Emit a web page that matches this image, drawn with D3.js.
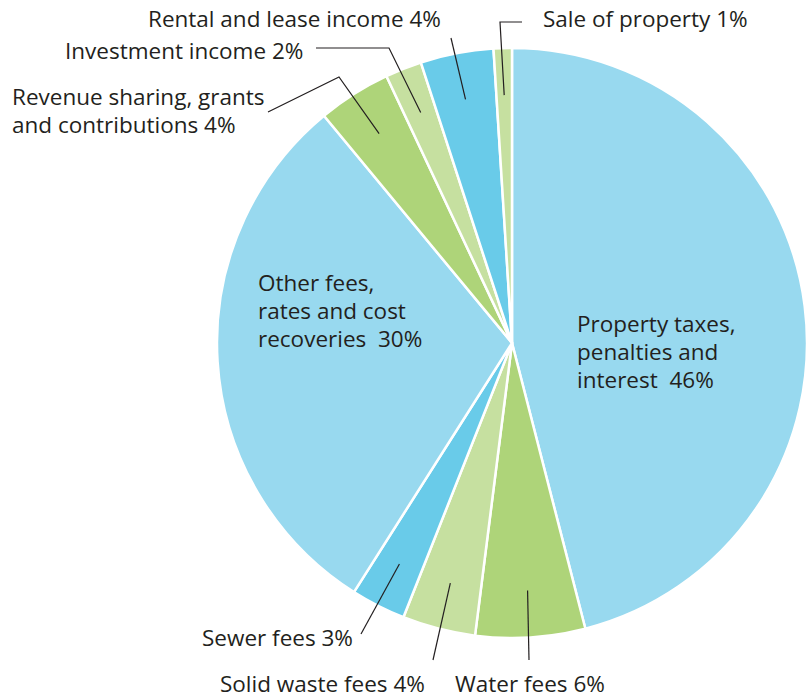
<!DOCTYPE html>
<html>
<head>
<meta charset="utf-8">
<script src="https://cdn.jsdelivr.net/npm/d3@7"></script>
<style>
  body { margin: 0; background: #fff; }
  text { font-family: "Open Sans", sans-serif; fill: #231f20; }
</style>
</head>
<body>
<script>
// Slices, clockwise from 12 o'clock
var categories = [
    "Property taxes, penalties and interest",
    "Water fees",
    "Solid waste fees",
    "Sewer fees",
    "Other fees, rates and cost recoveries",
    "Revenue sharing, grants and contributions",
    "Investment income",
    "Rental and lease income",
    "Sale of property"
];
var shares = [46, 6, 4, 3, 30, 4, 2, 4, 1];
var labelLines = [
    ["Property taxes,", "penalties and", "interest  46%"],
    ["Water fees 6%"],
    ["Solid waste fees 4%"],
    ["Sewer fees 3%"],
    ["Other fees,", "rates and cost", "recoveries  30%"],
    ["Revenue sharing, grants", "and contributions 4%"],
    ["Investment income 2%"],
    ["Rental and lease income 4%"],
    ["Sale of property 1%"]
];
var fills = ["#98d9ef", "#aed479", "#c6e0a0", "#69cbe9", "#98d9ef", "#aed479", "#c6e0a0", "#69cbe9", "#c6e0a0"];

// label placement: text anchor point, and leader path (after start on slice)
var layout = [
    { x: 577, y: 332, leader: null },
    { x: 455, y: 692, leader: [[529, 660]] },
    { x: 220, y: 692, leader: [[433, 660]] },
    { x: 202, y: 646, leader: [[361, 634]] },
    { x: 258, y: 291, leader: null },
    { x: 12, y: 105, leader: [[339, 77], [268, 112]] },
    { x: 65, y: 59, leader: [[389, 48], [316, 48]] },
    { x: 148, y: 27, leader: [[451, 38]] },
    { x: 543, y: 27, leader: [[500, 22], [522, 22]] }
];

function init() {
    var width = 807;
    var height = 700;
    var cx = 512, cy = 343, radius = 295;

    var svg = d3.select("body").append("svg")
        .attr("width", width)
        .attr("height", height);

    var g = svg.append("g").attr("transform", "translate(" + cx + "," + cy + ")");

    var pie = d3.pie().sort(null).value(function (d) { return d; });
    var arcs = pie(shares);

    var arc = d3.arc().innerRadius(0).outerRadius(radius);
    var leaderArc = d3.arc().innerRadius(248).outerRadius(248);

    g.selectAll("path.slice")
        .data(arcs)
        .enter().append("path")
        .attr("class", "slice")
        .attr("d", arc)
        .attr("fill", function (d, i) { return fills[i]; })
        .attr("stroke", "#fff")
        .attr("stroke-width", 2.5)
        .attr("stroke-linejoin", "round");

    // leader lines
    arcs.forEach(function (d, i) {
        var lay = layout[i];
        if (!lay.leader) return;
        var start = leaderArc.centroid(d);
        var pts = [[start[0] + cx, start[1] + cy]].concat(lay.leader);
        svg.append("path")
            .attr("d", d3.line()(pts))
            .attr("fill", "none")
            .attr("stroke", "#231f20")
            .attr("stroke-width", 1.2);
    });

    // labels
    layout.forEach(function (lay, i) {
        var t = svg.append("text")
            .attr("x", lay.x)
            .attr("y", lay.y)
            .attr("font-size", 22.5);
        labelLines[i].forEach(function (line, j) {
            t.append("tspan")
                .attr("x", lay.x)
                .attr("dy", j === 0 ? 0 : 28)
                .attr("xml:space", "preserve")
                .text(line);
        });
    });
}

window.onload = init;
</script>
</body>
</html>
